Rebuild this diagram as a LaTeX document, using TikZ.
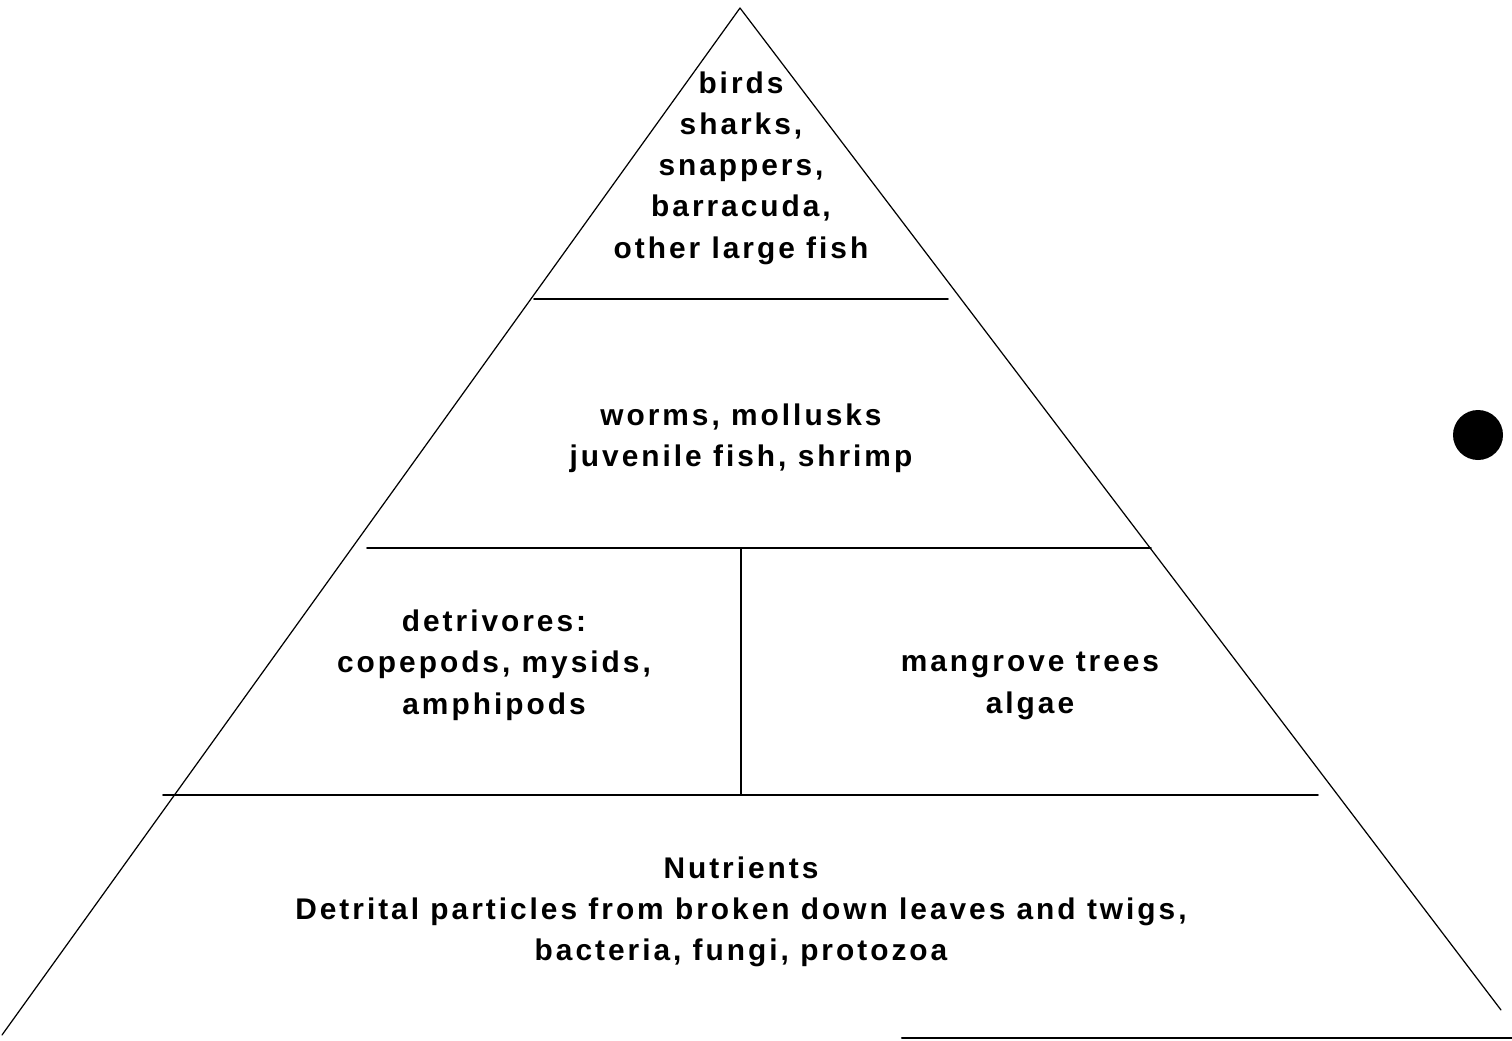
\documentclass[tikz,border=0pt]{standalone}
\usepackage{fontspec}
\setmainfont{Liberation Sans}[LetterSpace=10]
\tikzset{
  level/.style={font=\bfseries\fontsize{17}{23.5}\selectfont, align=center, inner sep=0pt},
}
\begin{document}
\begin{tikzpicture}[x=0.02cm, y=-0.02cm, line join=round, line cap=round]
	\useasboundingbox (0,0) rectangle (1512,1041);
	% apex and sides of the pyramid
	\coordinate (top) at (740,8);
	\coordinate (bl) at (2,1035);
	\coordinate (br) at (1501,1010);
	\draw[line width=.7pt] (bl) -- (top) -- (br);
	% levels
	\draw[line width=.9pt] (534,299) -- (948,299);
	\draw[line width=.9pt] (367,548) -- (1151,548);
	\draw[line width=1pt] (163,795) -- (1318,795);
	\draw[line width=.7pt] (741,548) -- (741,795);
	\draw[line width=1.2pt] (902,1038) -- (1512,1038);
	\fill (1478,435) circle (25);
	% labels
	\node[level] (predators) at (741,168) {birds\\sharks,\\snappers,\\barracuda,\\other large fish};
	\node[level] (consumers) at (741,438) {worms, mollusks\\juvenile fish, shrimp};
	\node[level] (detrivores) at (494,665) {detrivores:\\copepods, mysids,\\amphipods};
	\node[level] (producers) at (1030,686) {mangrove trees\\algae};
	\node[level] (nutrients) at (741,912) {Nutrients\\Detrital particles from broken down leaves and twigs,\\bacteria, fungi, protozoa};
\end{tikzpicture}
\end{document}
